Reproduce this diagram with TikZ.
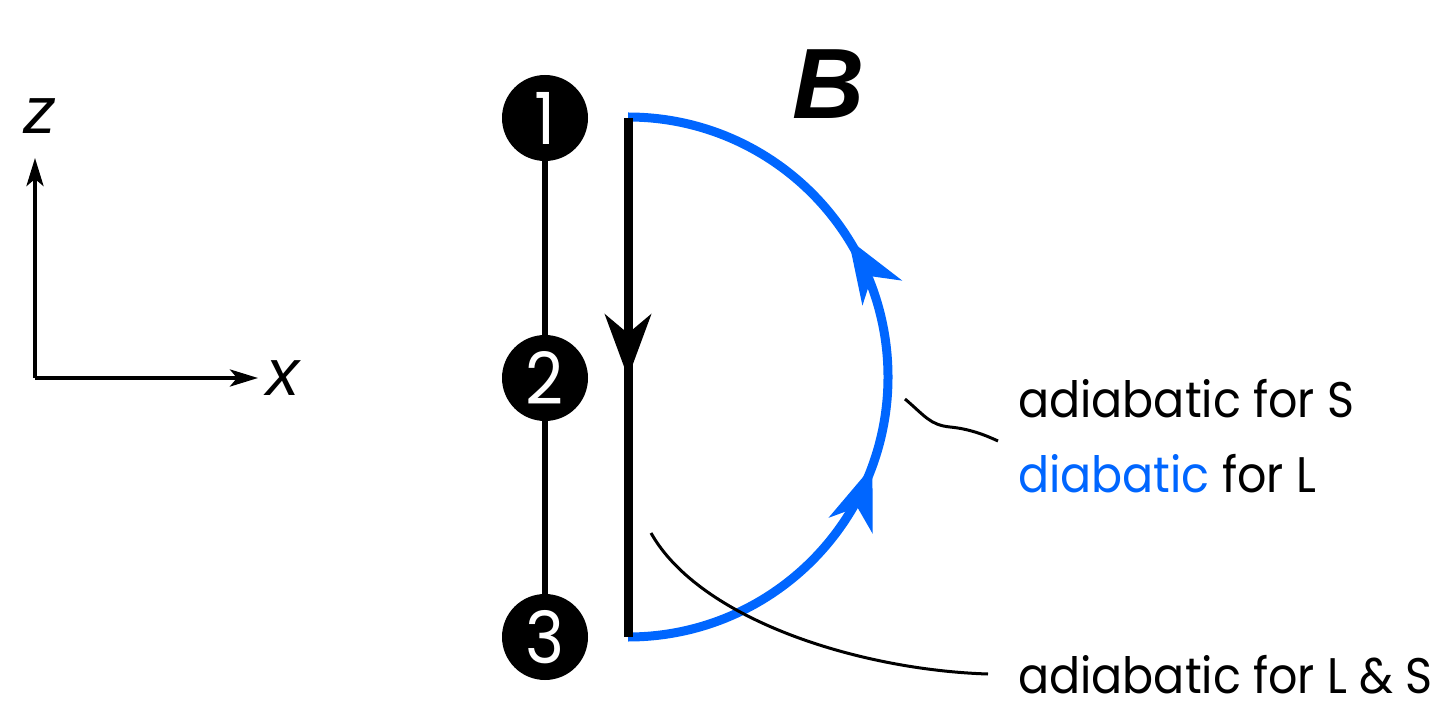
\documentclass[tikz,border=0pt]{standalone}
\usepackage{fontspec}
\setmainfont{Poppins}[FakeStretch=0.92]
\newfontfamily\axisfont{Liberation Sans}
\usetikzlibrary{arrows.meta,decorations.markings}
\definecolor{flowblue}{RGB}{0,102,255}

\begin{document}
\begin{tikzpicture}[x=1pt,y=1pt,
  site/.style={circle,fill=black,minimum size=86pt,inner sep=0pt,text=white,
    font=\fontsize{72}{72}\selectfont},
  note/.style={anchor=base west,inner sep=0pt,font=\fontsize{50}{54}\selectfont},
  axislabel/.style={inner sep=0pt,font=\axisfont\itshape\fontsize{66}{66}\selectfont},
  axisarrow/.style={line width=4pt,-{Stealth[length=28pt,width=17pt,inset=7pt]}},
  bighead/.tip={Stealth[length=63pt,width=46pt,inset=19pt]},
  pointer/.style={line width=3pt}]
  \useasboundingbox (0,0) rectangle (1439,710);

  % Axes
  \coordinate (origin) at (35,332);
  \coordinate (ztip) at (35,552);
  \coordinate (xtip) at (258,332);
  \draw[axisarrow] (origin) -- (ztip);
  \draw[axisarrow] (origin) -- (xtip);
  \node[axislabel] (zlab) at (40,594) {z};
  \node[axislabel] (xlab) at (283,332) {x};

  % Sites 1, 2, 3
  \node[site] (n1) at (545,592) {1};
  \node[site] (n2) at (545,332) {2};
  \node[site] (n3) at (545,73) {3};
  \draw[line width=6pt] (n1) -- (n2) -- (n3);

  % Field B
  \node[inner sep=0pt,font=\axisfont\bfseries\itshape\fontsize{100}{100}\selectfont] (blab) at (829,626) {B};

  % Blue path (semicircle) with two arrows
  \coordinate (top) at (628,592);
  \coordinate (bot) at (628,73);
  \draw[flowblue,line width=9pt,postaction={decorate},
    decoration={markings,
      mark=at position 0.389 with {\arrow{bighead}},
      mark=at position 0.678 with {\arrow{bighead}}}]
    (bot) arc[start angle=-90,end angle=90,radius=260];

  % Straight path with arrow
  \draw[line width=9pt,postaction={decorate},
    decoration={markings,mark=at position 0.5 with {\arrow{bighead}}}]
    (top) -- (bot);

  % Annotations
  \node[note] (t1) at (1018,292) {adiabatic for S};
  \node[note] (t2) at (1018,218) {\textcolor{flowblue}{diabatic} for L};
  \node[note] (t3) at (1018,17) {adiabatic for L \& S};
  \coordinate (p1) at (905,311);
  \coordinate (q1) at (998,269);
  \draw[pointer] (p1) .. controls (925,294) and (930,285) .. (950,283)
    .. controls (970,281) and (985,275) .. (q1);
  \coordinate (p2) at (651,177);
  \coordinate (q2) at (988,36);
  \draw[pointer] (p2) .. controls (700,90) and (860,40) .. (q2);
\end{tikzpicture}
\end{document}
